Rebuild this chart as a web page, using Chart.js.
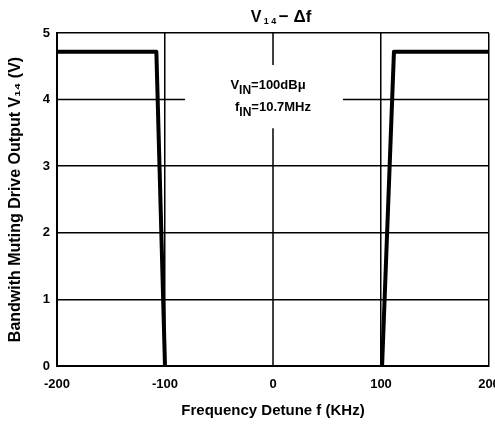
<!DOCTYPE html>
<html>
<head>
<meta charset="utf-8">
<script src="https://cdn.jsdelivr.net/npm/chart.js@4/dist/chart.umd.min.js"></script>
<style>
html,body{margin:0;padding:0;background:#fff;}
#c{display:block;}
</style>
</head>
<body>
<canvas id="c" width="495" height="425"></canvas>
<script>
// ---- data ----
const leftFreq = [-200, -108, -100];
const leftV    = [4.72, 4.72, 0];
const rightFreq = [101, 112, 200];
const rightV    = [0, 4.72, 4.72];
const xTickLabels = {"-200":"-200","-100":"-100","0":"0","100":"100","200":"200"};
const yTickLabels = {"0":"0","1":"1","2":"2","3":"3","4":"4","5":"5"};
// broken grid lines (data units)
const grid4Segments = [[-200, -81.5], [64.8, 200]];   // horizontal line at V=4
const grid0Segments = [[5, 4.52], [3.57, 0]];         // vertical line at f=0

const FONT = "'Liberation Sans', Arial, Helvetica, sans-serif";

function drawRuns(ctx, runs, cx, y) {
  // runs: [text, size, dy]
  let total = 0;
  runs.forEach(r => { ctx.font = "bold " + r[1] + "px " + FONT; total += ctx.measureText(r[0]).width; });
  let x = cx - total / 2;
  runs.forEach(r => {
    ctx.font = "bold " + r[1] + "px " + FONT;
    ctx.fillText(r[0], x, y + r[2]);
    x += ctx.measureText(r[0]).width;
  });
}

const overlay = {
  id: 'overlay',
  beforeDatasetsDraw(chart) {
    const ctx = chart.ctx, xs = chart.scales.x, ys = chart.scales.y;
    ctx.save();
    ctx.strokeStyle = '#000';
    ctx.lineWidth = 1.5;
    grid4Segments.forEach(s => {
      ctx.beginPath();
      ctx.moveTo(xs.getPixelForValue(s[0]), ys.getPixelForValue(4));
      ctx.lineTo(xs.getPixelForValue(s[1]), ys.getPixelForValue(4));
      ctx.stroke();
    });
    grid0Segments.forEach(s => {
      ctx.beginPath();
      ctx.moveTo(xs.getPixelForValue(0), ys.getPixelForValue(s[0]));
      ctx.lineTo(xs.getPixelForValue(0), ys.getPixelForValue(s[1]));
      ctx.stroke();
    });
    ctx.restore();
  },
  afterDraw(chart) {
    const ctx = chart.ctx, xs = chart.scales.x;
    const cx = xs.getPixelForValue(0);
    ctx.save();
    ctx.fillStyle = '#000';
    ctx.textBaseline = 'alphabetic';
    // title
    drawRuns(ctx, [["V", 16, 0], [" 1 4 ", 9, 2], ["\u2212 \u0394f", 17, 0]], cx + 8, 22);
    // annotation
    drawRuns(ctx, [["V", 13, 0], ["IN", 12, 5], ["=100dB\u03bc", 13, 0]], cx - 5, 89);
    drawRuns(ctx, [["f", 13, 0], ["IN", 12, 5], ["=10.7MHz", 13, 0]], cx, 111);
    ctx.restore();
  }
};

new Chart(document.getElementById('c'), {
  type: 'line',
  data: {
    datasets: [
      { data: leftFreq.map((f, i) => ({x: f, y: leftV[i]})), borderColor: '#000', borderWidth: 4, pointRadius: 0, borderJoinStyle: 'round', fill: false },
      { data: rightFreq.map((f, i) => ({x: f, y: rightV[i]})), borderColor: '#000', borderWidth: 4, pointRadius: 0, borderJoinStyle: 'round', fill: false }
    ]
  },
  options: {
    responsive: false,
    devicePixelRatio: 1,
    animation: false,
    layout: { padding: { top: 33, right: 6, left: 0, bottom: 0 } },
    plugins: { legend: { display: false }, tooltip: { enabled: false }, title: { display: false } },
    scales: {
      x: {
        type: 'linear', min: -200, max: 200,
        ticks: { stepSize: 100, color: '#000', padding: 11, maxRotation: 0,
                 font: { family: FONT, size: 13, weight: 'bold' },
                 callback: v => xTickLabels[String(v)] },
        grid: { color: ctx => (ctx.tick && ctx.tick.value === 0) ? 'rgba(0,0,0,0)' : '#000', lineWidth: 1.5, drawTicks: false },
        border: { display: true, color: '#000', width: 2 },
        title: { display: true, text: 'Frequency Detune f (KHz)', color: '#000',
                 font: { family: FONT, size: 15, weight: 'bold' }, padding: { top: 0, bottom: 5 } },
        afterFit: s => { s.height = 59; s.paddingLeft = 0; s.paddingRight = 0; }
      },
      y: {
        type: 'linear', min: 0, max: 5,
        ticks: { stepSize: 1, color: '#000', padding: 7,
                 font: { family: FONT, size: 13, weight: 'bold' },
                 callback: v => yTickLabels[String(v)] },
        grid: { color: ctx => (ctx.tick && ctx.tick.value === 4) ? 'rgba(0,0,0,0)' : '#000', lineWidth: 1.5, drawTicks: false },
        border: { display: true, color: '#000', width: 2 },
        title: { display: true, text: 'Bandwith Muting Drive Output V\u2081\u2084 (V)', color: '#000',
                 font: { family: FONT, size: 16, weight: 'bold' }, padding: { top: 6, bottom: 0 } },
        afterFit: s => { s.width = 57; s.paddingTop = 0; s.paddingBottom = 0; }
      }
    }
  },
  plugins: [overlay]
});
</script>
</body>
</html>
